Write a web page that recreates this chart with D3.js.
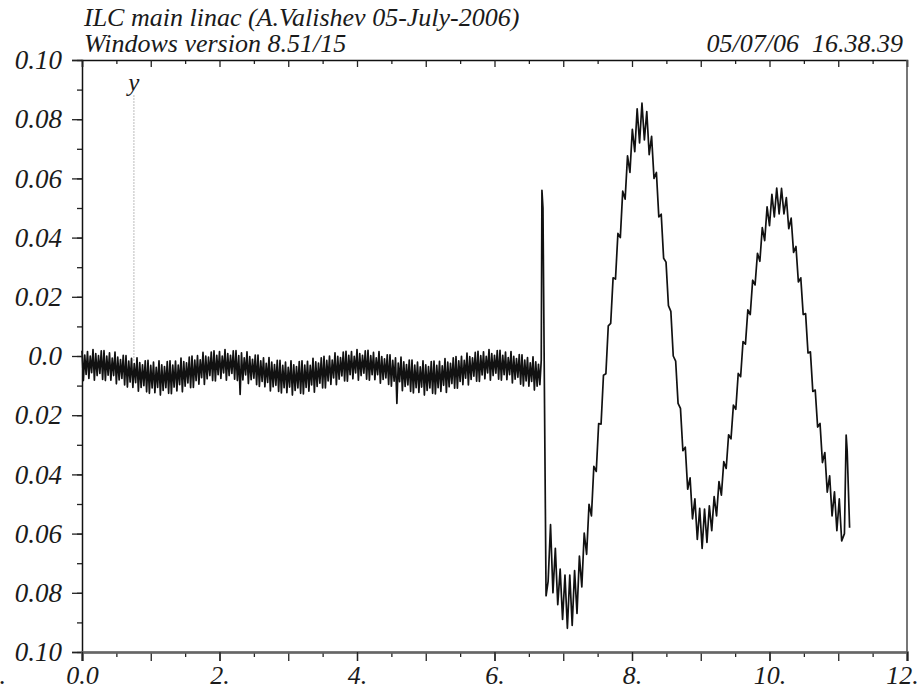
<!DOCTYPE html>
<html>
<head>
<meta charset="utf-8">
<script src="https://cdn.jsdelivr.net/npm/d3@7"></script>
<style>
  body { margin: 0; background: #fff; }
  svg { display: block; }
  text { font-family: "Liberation Serif", "DejaVu Serif", serif; font-style: italic; fill: #1a1a1a; }
</style>
</head>
<body>
<svg id="chart" width="922" height="694"></svg>
<script>
// Header text
const titleLines = ["ILC main linac (A.Valishev 05-July-2006)", "Windows version 8.51/15"];
const stampText = "05/07/06  16.38.39";

// Axis ticks and labels
const xTicks = [0, 2, 4, 6, 8, 10, 12];
const xTickLabels = ["0.0", "2.", "4.", "6.", "8.", "10.", "12."];
const yTicks = [0.10, 0.08, 0.06, 0.04, 0.02, 0.0, -0.02, -0.04, -0.06, -0.08, -0.10];
const yTickLabels = ["0.10", "0.08", "0.06", "0.04", "0.02", "0.0", "0.02", "0.04", "0.06", "0.08", "0.10"];
const edgeLabel = "0.";

// Element marker
const markerS = 0.755;
const markerRange = [0.088, -0.002];
const markerLabel = "y";

// Orbit, first part: regular samples from s = 0 with step 0.02
const part1Start = 0, part1Step = 0.02;
const part1Y = [
  0.0018, -0.0083, 0.0003, -0.0062, 0.0015, -0.0076, 0.0000, -0.0056, 0.0022, -0.0082,
  0.0008, -0.0066, 0.0001, -0.0059, 0.0017, -0.0079, 0.0018, -0.0083, 0.0000, -0.0065,
  0.0011, -0.0082, -0.0007, -0.0066, 0.0013, -0.0094, -0.0004, -0.0081, -0.0012, -0.0076,
  0.0002, -0.0098, 0.0001, -0.0105, -0.0017, -0.0088, -0.0008, -0.0106, -0.0026, -0.0090,
  -0.0006, -0.0119, -0.0022, -0.0106, -0.0030, -0.0100, -0.0016, -0.0121, -0.0015, -0.0126,
  -0.0032, -0.0108, -0.0021, -0.0124, -0.0038, -0.0106, -0.0016, -0.0132, -0.0030, -0.0116,
  -0.0036, -0.0107, -0.0019, -0.0126, -0.0016, -0.0127, -0.0031, -0.0105, -0.0017, -0.0118,
  -0.0031, -0.0097, -0.0007, -0.0121, -0.0019, -0.0102, -0.0023, -0.0091, -0.0004, -0.0107,
  0.0000, -0.0106, -0.0014, -0.0083, 0.0001, -0.0095, -0.0013, -0.0073, 0.0012, -0.0096,
  0.0000, -0.0077, -0.0004, -0.0066, 0.0013, -0.0083, 0.0017, -0.0084, 0.0002, -0.0063,
  0.0015, -0.0076, 0.0000, -0.0057, 0.0022, -0.0082, 0.0008, -0.0066, 0.0002, -0.0059,
  0.0017, -0.0078, 0.0018, -0.0083, 0.0001, -0.0130, 0.0011, -0.0081, -0.0006, -0.0064,
  0.0014, -0.0093, -0.0002, -0.0080, -0.0011, -0.0075, 0.0003, -0.0097, 0.0003, -0.0103,
  -0.0016, -0.0086, -0.0006, -0.0104, -0.0025, -0.0089, -0.0005, -0.0118, -0.0021, -0.0104,
  -0.0029, -0.0099, -0.0015, -0.0120, -0.0015, -0.0125, -0.0032, -0.0107, -0.0021, -0.0124,
  -0.0038, -0.0105, -0.0016, -0.0132, -0.0030, -0.0116, -0.0036, -0.0108, -0.0019, -0.0126,
  -0.0016, -0.0128, -0.0031, -0.0106, -0.0018, -0.0119, -0.0032, -0.0098, -0.0008, -0.0122,
  -0.0020, -0.0103, -0.0024, -0.0092, -0.0006, -0.0108, -0.0001, -0.0108, -0.0015, -0.0084,
  0.0000, -0.0096, -0.0014, -0.0074, 0.0011, -0.0097, -0.0001, -0.0078, -0.0005, -0.0067,
  0.0013, -0.0084, 0.0016, -0.0085, 0.0002, -0.0063, 0.0015, -0.0077, -0.0001, -0.0057,
  0.0022, -0.0082, 0.0008, -0.0066, 0.0002, -0.0058, 0.0017, -0.0078, 0.0019, -0.0082,
  0.0001, -0.0063, 0.0012, -0.0080, -0.0006, -0.0063, 0.0015, -0.0092, -0.0002, -0.0079,
  -0.0010, -0.0074, 0.0004, -0.0096, 0.0004, -0.0102, -0.0015, -0.0085, -0.0006, -0.0160,
  -0.0024, -0.0087, -0.0004, -0.0117, -0.0020, -0.0103, -0.0029, -0.0098, -0.0014, -0.0120,
  -0.0014, -0.0125, -0.0031, -0.0107, -0.0021, -0.0123, -0.0037, -0.0105, -0.0016, -0.0132,
  -0.0030, -0.0116, -0.0036, -0.0108, -0.0019, -0.0126, -0.0017, -0.0128, -0.0032, -0.0107,
  -0.0018, -0.0120, -0.0033, -0.0099, -0.0009, -0.0123, -0.0021, -0.0104, -0.0025, -0.0093,
  -0.0006, -0.0109, -0.0002, -0.0109, -0.0016, -0.0086, -0.0001, -0.0097, -0.0015, -0.0075,
  0.0010, -0.0098, -0.0002, -0.0079, -0.0006, -0.0068, 0.0012, -0.0085, 0.0016, -0.0086,
  0.0001, -0.0064, 0.0014, -0.0077, -0.0001, -0.0057, 0.0022, -0.0082, 0.0008, -0.0066,
  0.0002, -0.0058, 0.0018, -0.0078, 0.0019, -0.0082, 0.0002, -0.0063, 0.0013, -0.0080,
  -0.0005, -0.0063, 0.0015, -0.0091, -0.0001, -0.0078, -0.0009, -0.0072, 0.0005, -0.0095,
  0.0004, -0.0101, -0.0014, -0.0084, -0.0005, -0.0102, -0.0023, -0.0086, -0.0003, -0.0115,
  -0.0020, -0.0102, -0.0028, -0.0097, -0.0014
];

// Kick region
const kickS = [6.69, 6.705, 6.75];
const kickY = [0.0560, 0.0500, -0.0810];

// Orbit, second part: regular samples from s = 6.78 with step 0.035
const part2Start = 6.78, part2Step = 0.035;
const part2Y = [
  -0.0761, -0.0570, -0.0800, -0.0650, -0.0840, -0.0720, -0.0890, -0.0740, -0.0920, -0.0740,
  -0.0910, -0.0725, -0.0870, -0.0676, -0.0780, -0.0598, -0.0670, -0.0501, -0.0540, -0.0373,
  -0.0390, -0.0228, -0.0230, -0.0065, -0.0060, 0.0102, 0.0110, 0.0264, 0.0260, 0.0414,
  0.0400, 0.0557, 0.0530, 0.0676, 0.0620, 0.0766, 0.0690, 0.0835, 0.0720, 0.0854,
  0.0730, 0.0826, 0.0680, 0.0742, 0.0600, 0.0620, 0.0470, 0.0479, 0.0330, 0.0317,
  0.0170, 0.0151, 0.0000, -0.0017, -0.0160, -0.0177, -0.0320, -0.0308, -0.0450, -0.0412,
  -0.0550, -0.0483, -0.0620, -0.0515, -0.0650, -0.0517, -0.0630, -0.0506, -0.0590, -0.0475,
  -0.0540, -0.0424, -0.0470, -0.0357, -0.0380, -0.0266, -0.0280, -0.0166, -0.0180, -0.0059,
  -0.0070, 0.0049, 0.0040, 0.0156, 0.0140, 0.0256, 0.0240, 0.0347, 0.0320, 0.0434,
  0.0390, 0.0504, 0.0440, 0.0546, 0.0470, 0.0567, 0.0480, 0.0566, 0.0480, 0.0535,
  0.0430, 0.0466, 0.0350, 0.0370, 0.0250, 0.0264, 0.0140, 0.0143, 0.0010, 0.0014,
  -0.0120, -0.0115, -0.0240, -0.0228, -0.0360, -0.0326, -0.0460, -0.0405, -0.0540, -0.0459,
  -0.0590, -0.0483, -0.0625
];

// End of line
const tailS = [11.09, 11.115, 11.13, 11.165];
const tailY = [-0.0600, -0.0267, -0.0320, -0.0580];

// ---- drawing ----
const svg = d3.select("#chart");
const x = d3.scaleLinear().domain([0, 12]).range([82, 907]);
const y = d3.scaleLinear().domain([-0.1, 0.1]).range([652, 60]);

const points = [];
part1Y.forEach((v, i) => points.push([part1Start + i * part1Step, v]));
kickS.forEach((s, i) => points.push([s, kickY[i]]));
part2Y.forEach((v, i) => points.push([part2Start + i * part2Step, v]));
tailS.forEach((s, i) => points.push([s, tailY[i]]));

// header
svg.append("text").attr("x", 84).attr("y", 26).attr("font-size", 26).text(titleLines[0]);
svg.append("text").attr("x", 84).attr("y", 52).attr("font-size", 26).text(titleLines[1]);
svg.append("text").attr("x", 903).attr("y", 52).attr("font-size", 26)
  .attr("text-anchor", "end").style("white-space", "pre").text(stampText);

// marker
svg.append("line")
  .attr("x1", x(markerS)).attr("x2", x(markerS))
  .attr("y1", y(markerRange[0])).attr("y2", y(markerRange[1]))
  .attr("stroke", "#777").attr("stroke-width", 1).attr("stroke-dasharray", "1,2");
svg.append("text").attr("x", x(markerS)).attr("y", y(markerRange[0]) - 5)
  .attr("text-anchor", "middle").attr("font-size", 25).text(markerLabel);

// trace
svg.append("path")
  .datum(points)
  .attr("fill", "none")
  .attr("stroke", "#111")
  .attr("stroke-width", 1.7)
  .attr("stroke-linejoin", "round")
  .attr("d", d3.line().x(d => x(d[0])).y(d => y(d[1])));

// left axis: minor then major with labels
const yMinor = d3.range(-0.1, 0.1001, 0.01);
svg.append("g").attr("transform", "translate(82,0)")
  .call(d3.axisLeft(y).tickValues(yMinor).tickSize(5).tickFormat(""))
  .call(g => g.select(".domain").remove());
svg.append("g").attr("class", "yaxis").attr("transform", "translate(82,0)")
  .call(d3.axisLeft(y).tickValues(yTicks).tickSize(10).tickPadding(10)
    .tickFormat((d, i) => yTickLabels[i]));

// top axis (ticks inside)
const xHalf = d3.range(0, 12.001, 0.5);
svg.append("g").attr("transform", "translate(0,60)")
  .call(d3.axisBottom(x).tickValues(xHalf.filter(v => v % 1 !== 0)).tickSize(4).tickFormat(""))
  .call(g => g.select(".domain").remove());
svg.append("g").attr("transform", "translate(0,60)")
  .call(d3.axisBottom(x).tickValues(xHalf.filter(v => v % 1 === 0)).tickSize(7).tickFormat(""));

// bottom axis (ticks outside)
svg.append("g").attr("transform", "translate(0,652)")
  .call(d3.axisBottom(x).tickValues(xHalf.filter(v => v % 1 !== 0)).tickSize(5).tickFormat(""))
  .call(g => g.select(".domain").remove());
svg.append("g").attr("transform", "translate(0,652)")
  .call(d3.axisBottom(x).tickValues(d3.range(0, 12.001, 1)).tickSize(9).tickFormat(""));
svg.append("g").attr("class", "xaxis").attr("transform", "translate(0,652)")
  .call(d3.axisBottom(x).tickValues(xTicks).tickSize(9).tickPadding(5)
    .tickFormat((d, i) => xTickLabels[i]))
  .call(g => g.select(".domain").attr("stroke", "#666").attr("stroke-width", 2.5));

// right frame
svg.append("line").attr("x1", 907).attr("x2", 907).attr("y1", 60).attr("y2", 652)
  .attr("stroke", "#555").attr("stroke-width", 1.6);

svg.selectAll(".tick line").attr("stroke", "#222").attr("stroke-width", 1.3);
svg.selectAll(".domain").filter(function () { return d3.select(this).attr("stroke") !== "#666"; })
  .attr("stroke", "#111").attr("stroke-width", 1.5);
svg.selectAll("g").attr("font-family", null).attr("font-size", null);
svg.selectAll(".yaxis text").style("font-size", "27px").attr("fill", "#1a1a1a");
svg.selectAll(".xaxis text").style("font-size", "26px").attr("fill", "#1a1a1a");
svg.selectAll(".xaxis .tick").filter((d, i) => i === xTicks.length - 1)
  .select("text").attr("dx", -5);

// clipped label at the bottom-left edge
svg.append("text").attr("x", 6).attr("y", 684).attr("text-anchor", "end")
  .attr("font-size", 26).text(edgeLabel);
</script>
</body>
</html>
